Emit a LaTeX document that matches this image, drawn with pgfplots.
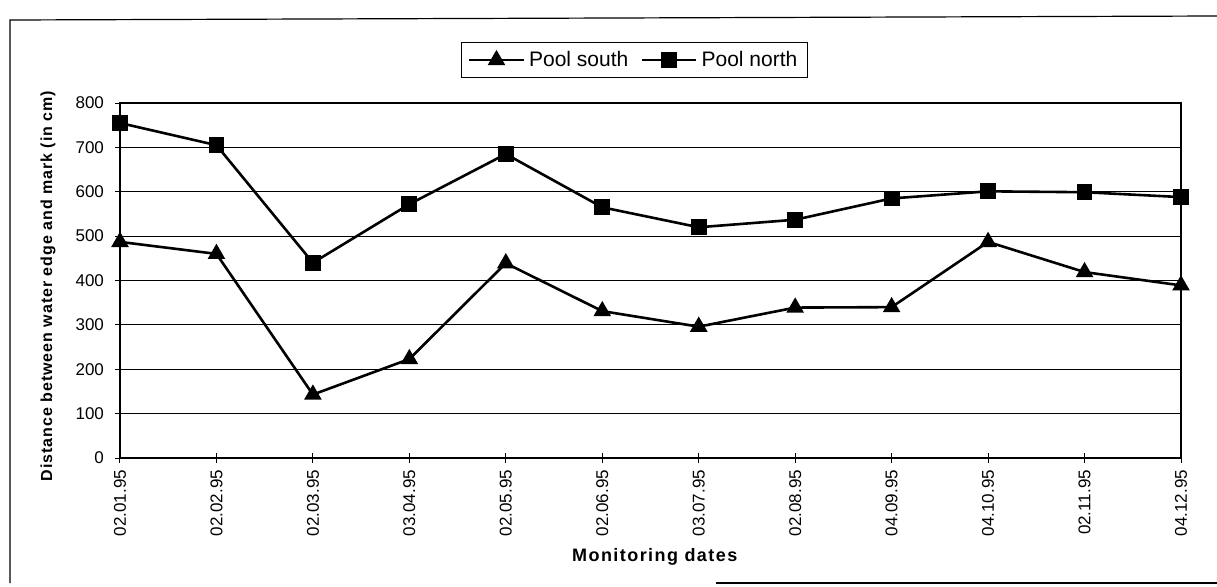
\documentclass[border=0pt]{standalone}
\usepackage{fontspec}
\setmainfont{Liberation Sans}
\usepackage{pgfplots}
\pgfplotsset{compat=1.18}
\begin{document}
\begin{tikzpicture}
\useasboundingbox (0,0) rectangle (608.5pt,293pt);
\draw[line width=0.6pt] (5pt,1.5pt) -- (5pt,283pt) -- (608.5pt,285pt);
\draw[line width=0.6pt] (358pt,1.5pt) -- (608.5pt,1.5pt);
\begin{axis}[
  at={(60pt,64pt)}, anchor=south west,
  scale only axis, width=530.5pt, height=177.5pt,
  xmin=0, xmax=11, ymin=0, ymax=800,
  xtick={0,...,11},
  xticklabels={02.01.95,02.02.95,02.03.95,03.04.95,02.05.95,02.06.95,03.07.95,02.08.95,04.09.95,04.10.95,02.11.95,04.12.95},
  ytick={0,100,...,800},
  ymajorgrids, grid style={black, line width=0.5pt},
  axis line style={line width=0.6pt},
  tick align=center, major tick length=5pt,
  xtick pos=bottom, ytick pos=left,
  tick style={black, line width=0.5pt},
  /pgf/number format/assume math mode=true,
  xticklabel style={rotate=90, anchor=east, font=\fontsize{8.5pt}{10pt}\selectfont},
  yticklabel style={font=\fontsize{8.5pt}{10pt}\selectfont, xshift=-2pt},
  xlabel={Monitoring dates},
  xlabel style={at={(axis description cs:0.504,-0.279)}, anchor=center, font=\fontsize{9pt}{11pt}\selectfont\bfseries\addfontfeatures{LetterSpace=8}},
  ylabel={Distance between water edge and mark (in cm)},
  ylabel style={at={(axis description cs:-0.0679,0.4845)}, anchor=center, font=\fontsize{8pt}{10pt}\selectfont\bfseries\addfontfeatures{LetterSpace=6}},
  legend columns=2,
  legend style={at={(axis description cs:0.485,1.121)}, anchor=center, draw=black, line width=0.5pt,
    font=\fontsize{10.5pt}{12pt}\selectfont, inner xsep=3pt, inner ysep=2pt,
    /tikz/every even column/.style={column sep=4pt}},
  legend image code/.code={\draw[mark repeat=2,mark phase=2,#1] plot coordinates {(0cm,0cm) (0.48cm,0cm) (0.96cm,0cm)};},
]
\addplot[black, line width=1.3pt, mark=triangle*, mark size=3.8pt, mark options={solid, fill=black}]
  coordinates {(0,487) (1,460) (2,143) (3,223) (4,439) (5,331) (6,296) (7,339) (8,340) (9,487) (10,419) (11,389)};
\addlegendentry{Pool south}
\addplot[black, line width=1.3pt, mark=square*, mark size=3.3pt, mark options={solid, fill=black}]
  coordinates {(0,755) (1,705) (2,440) (3,572) (4,685) (5,565) (6,520) (7,537) (8,585) (9,601) (10,599) (11,588)};
\addlegendentry{Pool north}
\end{axis}
\end{tikzpicture}
\end{document}
